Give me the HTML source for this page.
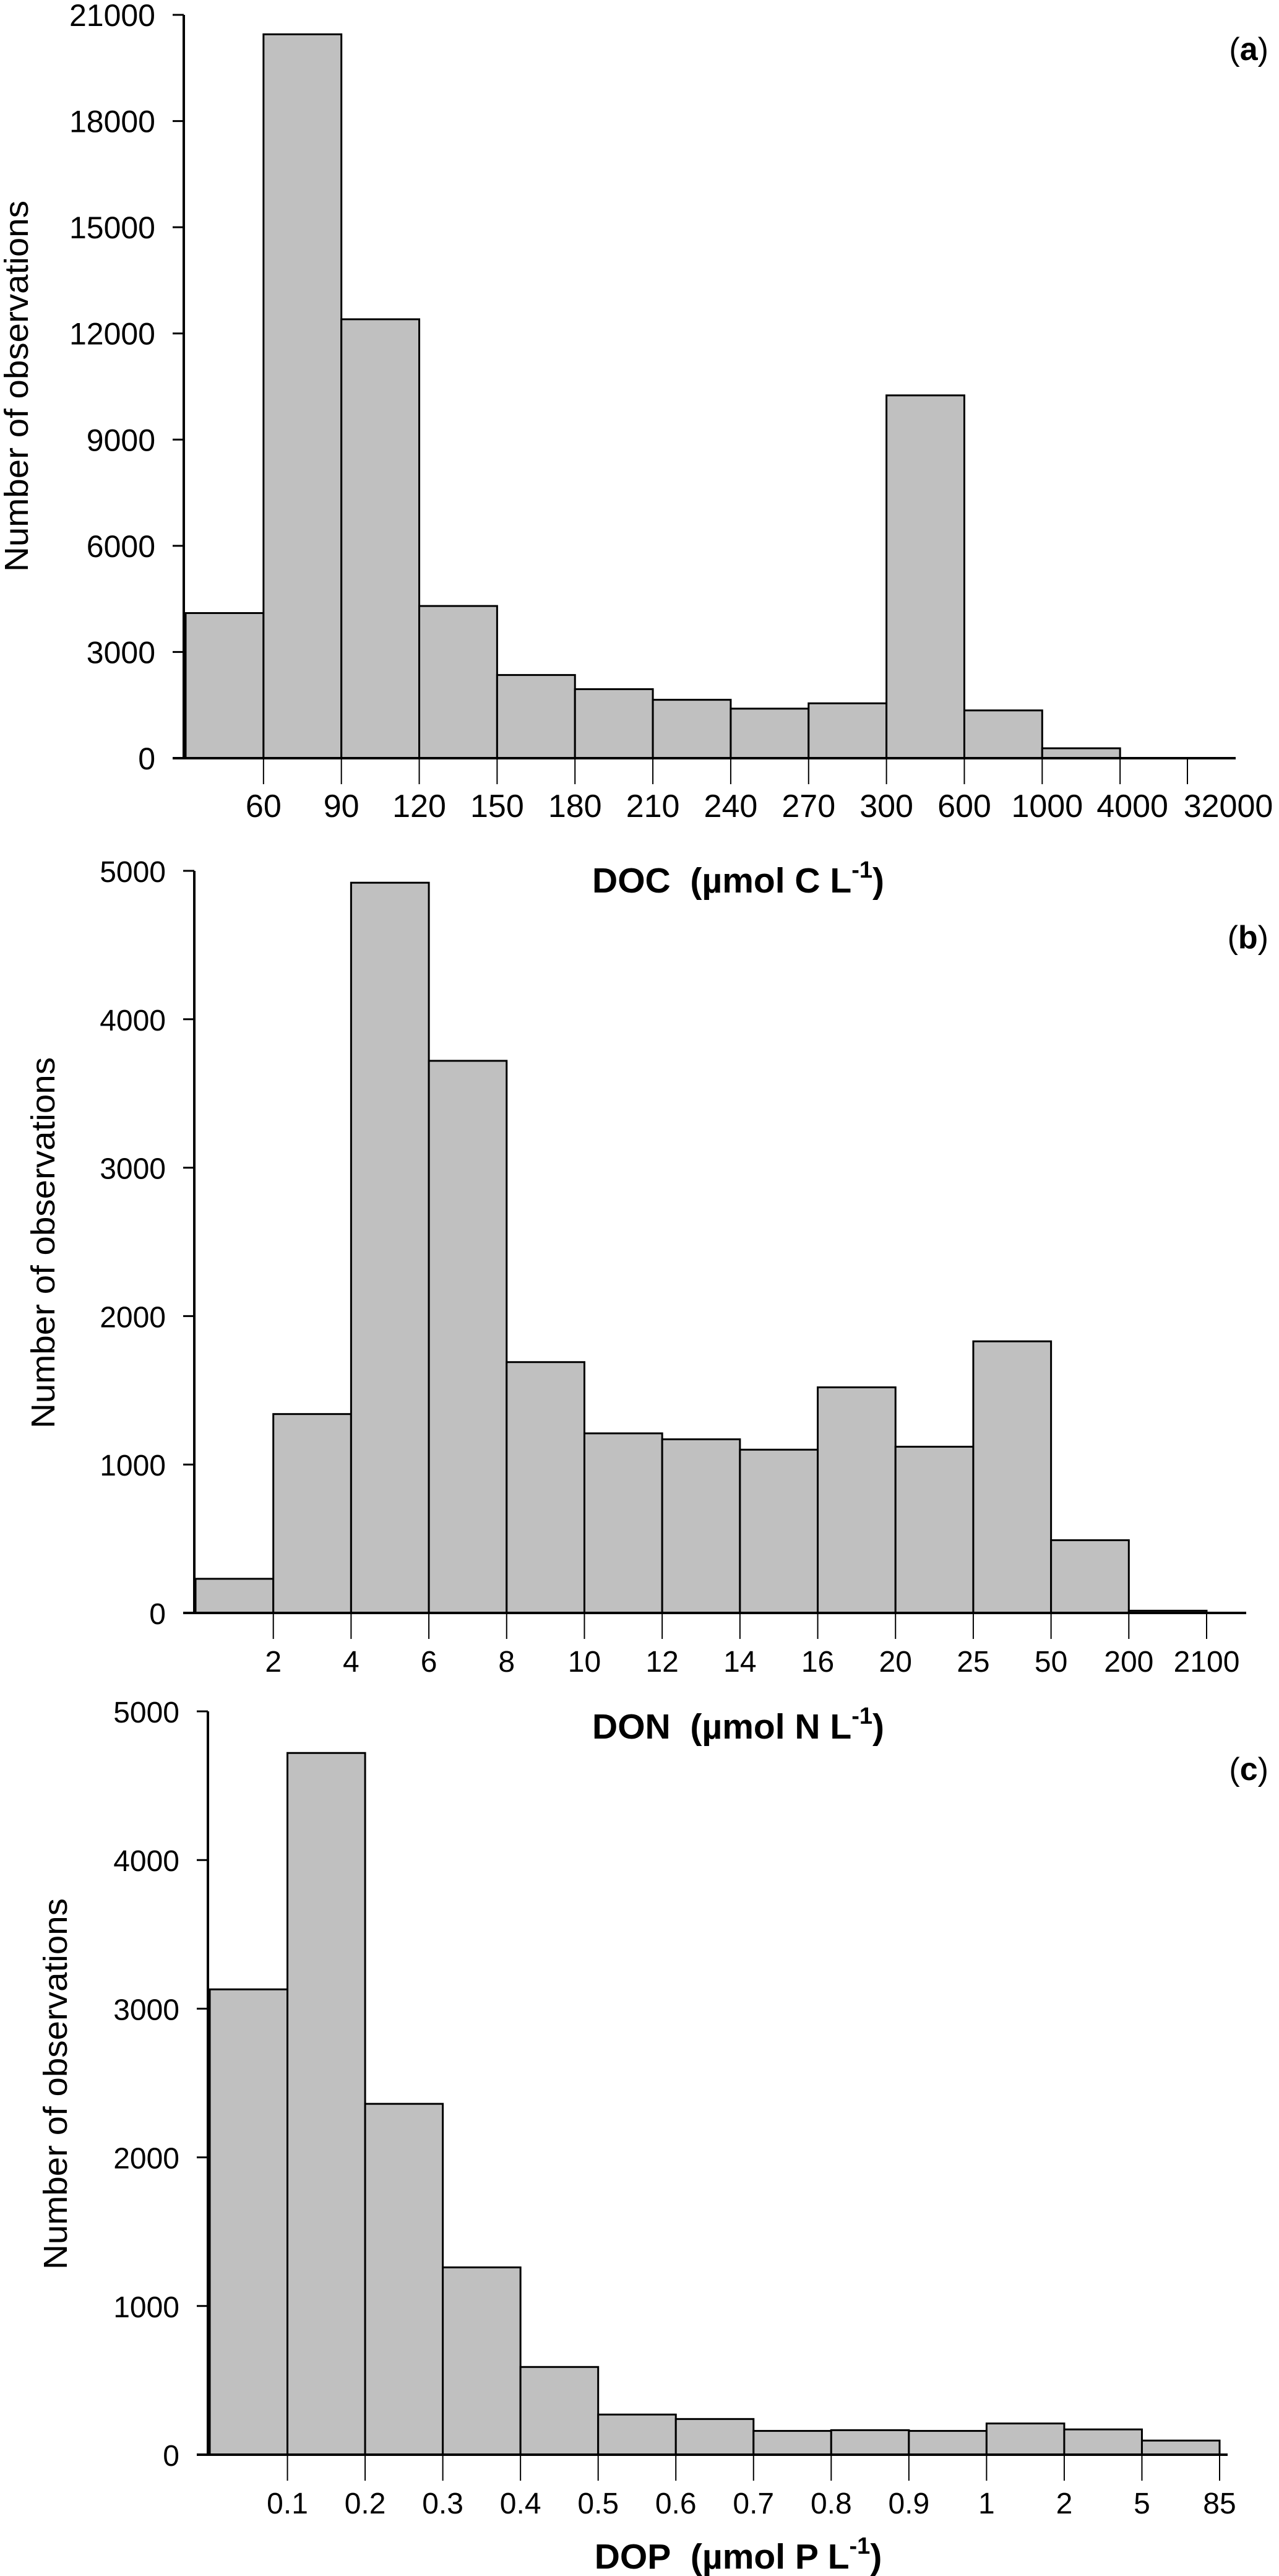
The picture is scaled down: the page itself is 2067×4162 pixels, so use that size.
<!DOCTYPE html>
<html><head><meta charset="utf-8"><style>
html,body{margin:0;padding:0;background:#fff}
svg{display:block}
text{font-family:"Liberation Sans",Arial,sans-serif;fill:#000}
</style></head><body>
<svg id="fig" width="2067" height="4162" viewBox="0 0 2067 4162" xmlns="http://www.w3.org/2000/svg"></svg>
<script>
// Panel (a) DOC
const docCategories = ["<60","60-90","90-120","120-150","150-180","180-210","210-240","240-270","270-300","300-600","600-1000","1000-4000","4000-32000"];
const docCounts = [4100, 20450, 12400, 4300, 2350, 1950, 1650, 1400, 1550, 10250, 1350, 280, 0];
const docTickLabels = ["60","90","120","150","180","210","240","270","300","600","1000","4000","32000"];
const docYTicks = [0, 3000, 6000, 9000, 12000, 15000, 18000, 21000];
// Panel (b) DON
const donCategories = ["<2","2-4","4-6","6-8","8-10","10-12","12-14","14-16","16-20","20-25","25-50","50-200","200-2100"];
const donCounts = [230, 1340, 4920, 3720, 1690, 1210, 1170, 1100, 1520, 1120, 1830, 490, 15];
const donTickLabels = ["2","4","6","8","10","12","14","16","20","25","50","200","2100"];
const donYTicks = [0, 1000, 2000, 3000, 4000, 5000];
// Panel (c) DOP
const dopCategories = ["<0.1","0.1-0.2","0.2-0.3","0.3-0.4","0.4-0.5","0.5-0.6","0.6-0.7","0.7-0.8","0.8-0.9","0.9-1","1-2","2-5","5-85"];
const dopCounts = [3130, 4720, 2360, 1260, 590, 270, 240, 160, 165, 160, 210, 170, 95];
const dopTickLabels = ["0.1","0.2","0.3","0.4","0.5","0.6","0.7","0.8","0.9","1","2","5","85"];
const dopYTicks = [0, 1000, 2000, 3000, 4000, 5000];

const NS = "http://www.w3.org/2000/svg";
const svg = document.getElementById("fig");
function mk(tag, attrs, parent){
  const e = document.createElementNS(NS, tag);
  for (const k in attrs) e.setAttribute(k, attrs[k]);
  (parent||svg).appendChild(e);
  return e;
}

function panel(cfg){
  const g = mk("g", {});
  
  
  const n = cfg.counts.length;
  const bw = (cfg.x1 - cfg.x0) / n;
  const xs = i => cfg.x0 + i * bw;
  const ys = v => cfg.y0 - (v / cfg.yMax) * (cfg.y0 - cfg.yTop);
  for (let i = 0; i < n; i++){
    const r = mk("rect", {x: xs(i), y: ys(cfg.counts[i]), width: bw, height: cfg.y0 - ys(cfg.counts[i]), fill: "#c0c0c0", stroke: "#000", "stroke-width": 3}, g);
    
    
  }
  const ya = mk("line", {x1: cfg.axX, y1: cfg.yTop, x2: cfg.axX, y2: cfg.y0, stroke: "#000", "stroke-width": 4}, g);
  
  
  cfg.yTicks.forEach(v => {
    mk("line", {x1: cfg.axX - 18, y1: ys(v), x2: cfg.axX, y2: ys(v), stroke: "#000", "stroke-width": 3}, g);
    const t = mk("text", {x: cfg.axX - 46, y: ys(v) + 18, "text-anchor": "end", "font-size": cfg.fs}, g);
    t.textContent = v;
    
    
  });
  const xa = mk("line", {x1: cfg.axX - 18, y1: cfg.y0, x2: cfg.xEnd, y2: cfg.y0, stroke: "#000", "stroke-width": 4}, g);
  
  
  const nl = cfg.tickLabels.length;
  cfg.tickLabels.forEach((lab, i) => {
    let tx = xs(i + 1);
    if (cfg.lastTickX && i === nl - 1) tx = cfg.lastTickX;
    mk("line", {x1: tx, y1: cfg.y0, x2: tx, y2: cfg.y0 + 42, stroke: "#000", "stroke-width": 2}, g);
    let off = 0;
    if (cfg.tailOffsets) { const k = i - (nl - cfg.tailOffsets.length); if (k >= 0) off = cfg.tailOffsets[k]; }
    const t = mk("text", {x: tx + off, y: cfg.y0 + 95, "text-anchor": "middle", "font-size": cfg.xfs || cfg.fs}, g);
    t.textContent = lab;
    
    
  });
  const xt = mk("text", {x: 1193, y: cfg.titleY, "text-anchor": "middle", "font-size": 57, "font-weight": "bold"}, g);
  xt.innerHTML = cfg.title + '&#160;&#160;(µmol ' + cfg.el + ' L<tspan dy="-24" font-size="38">-1</tspan><tspan dy="24">)</tspan>';
  
  
  const yt = mk("text", {x: 0, y: 0, "text-anchor": "middle", "font-size": 54, textLength: 600, lengthAdjust: "spacingAndGlyphs", transform: `translate(${cfg.ytX},${cfg.ytY}) rotate(-90)`}, g);
  yt.textContent = "Number of observations";
  
  
  const pl = mk("text", {x: 2050, y: cfg.labY, "text-anchor": "end", "font-size": 52}, g);
  pl.innerHTML = '(<tspan font-weight="bold">' + cfg.letter + '</tspan>)';
  
  
}

panel({id:"doc", categories:docCategories, counts:docCounts, tickLabels:docTickLabels, yTicks:docYTicks,
  yMax:21000, x0:300, x1:1936, axX:297, yTop:24, y0:1225, xEnd:1997, lastTickX:1919, fs:50, xfs:52,
  tailOffsets:[8, 20, 66],
  title:"DOC", el:"C", titleY:1442, ytX:45, ytY:624, labY:97, letter:"a"});
panel({id:"don", categories:donCategories, counts:donCounts, tickLabels:donTickLabels, yTicks:donYTicks,
  yMax:5000, x0:316, x1:1950, axX:314, yTop:1407, y0:2606, xEnd:2014, fs:48,
  title:"DON", el:"N", titleY:2809, ytX:88, ytY:2008, labY:1532, letter:"b"});
panel({id:"dop", categories:dopCategories, counts:dopCounts, tickLabels:dopTickLabels, yTicks:dopYTicks,
  yMax:5000, x0:339, x1:1971, axX:336, yTop:2765, y0:3966, xEnd:1984, fs:48,
  title:"DOP", el:"P", titleY:4150, ytX:108, ytY:3367, labY:2876, letter:"c"});
</script>
</body></html>
